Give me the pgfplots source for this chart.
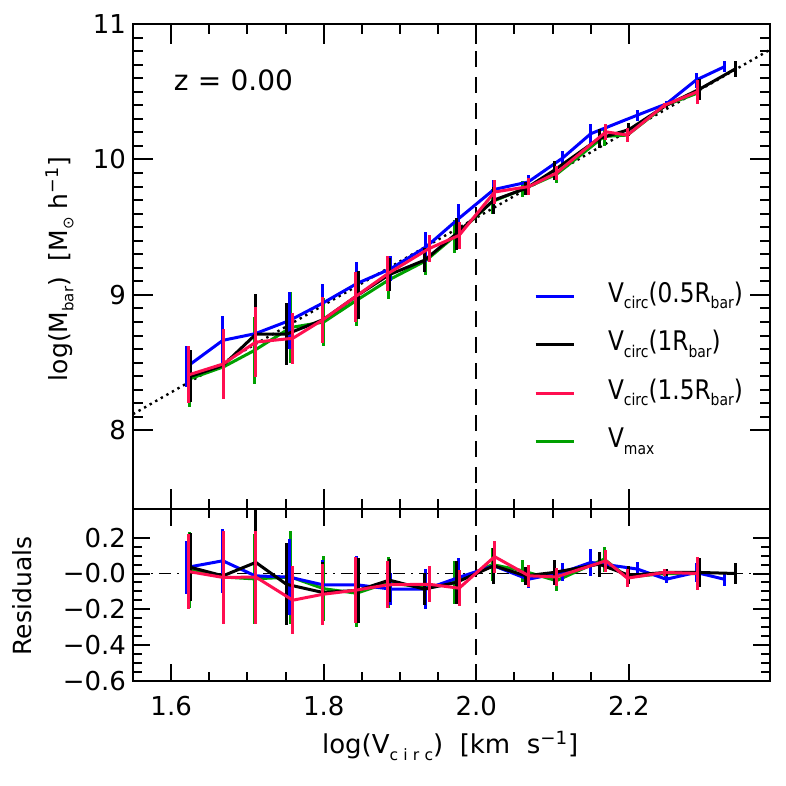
\documentclass[border=0pt]{standalone}
\usepackage{fontspec}
\setmainfont{DejaVu Sans}
\usepackage{pgfplots}
\usepackage{pgfplotstable}
\pgfplotsset{compat=1.18}
\definecolor{vblue}{RGB}{0,0,255}
\definecolor{vred}{RGB}{255,15,80}
\definecolor{vgreen}{RGB}{0,160,0}
\newcommand\sub[1]{\raisebox{-0.45ex}{\scalebox{0.6}{#1}}}
\newcommand\leg[1]{\hspace{2.5pt}\scalebox{0.86}[1]{#1}}

% x: log Vcirc, y: log Mbar, e: error, r: residual
\pgfplotstableread{
x      y       e      r
1.6206 8.47    0.15   0.034
1.6678 8.665   0.18   0.071
1.7101 8.714   0.22  -0.013
1.7547 8.81    0.21  -0.02
1.7988 8.94    0.14  -0.063
1.8434 9.084   0.16  -0.063
1.888  9.194   0.09  -0.087
1.934  9.354   0.11  -0.087
1.977  9.564   0.11  -0.022
2.023  9.778   0.07   0.043
2.068  9.834   0.05  -0.032
2.113  10.01   0.05   0.006
2.150  10.19   0.075  0.062
2.211  10.327  0.04   0.025
2.249  10.41   0.02  -0.032
2.288  10.586  0.055  0.006
2.325  10.684  0.04  -0.032
}\halfR

\pgfplotstableread{
x      y       e      r
1.626  8.40    0.19   0.034
1.668  8.48    0.25  -0.013
1.711  8.71    0.30   0.062
1.751  8.71    0.23  -0.06
1.799  8.817   0.17  -0.106
1.845  9.00    0.18  -0.094
1.886  9.15    0.12  -0.037
1.932  9.256   0.09  -0.087
1.9735 9.45    0.12  -0.05
2.023  9.70    0.10   0.043
2.065  9.786   0.05  -0.013
2.102  9.92    0.07   0.006
2.161  10.155  0.07   0.052
2.200  10.22   0.05  -0.01
2.249  10.40   0.02   0.006
2.292  10.517  0.08   0.006
2.340  10.67   0.06   0.0
}\oneR

\pgfplotstableread{
x      y       e      r
1.623  8.41    0.21   0.011
1.668  8.49    0.26  -0.022
1.711  8.652   0.26  -0.02
1.7595 8.68    0.19  -0.149
1.799  8.817   0.17  -0.116
1.841  8.985   0.185 -0.094
1.884  9.157   0.13  -0.063
1.938  9.342   0.10  -0.06
1.9775 9.44    0.10  -0.082
2.024  9.76    0.09   0.094
2.069  9.80    0.06  -0.013
2.105  9.90    0.05  -0.019
2.170  10.204  0.06   0.071
2.198  10.18   0.05  -0.026
2.2465 10.40   0.02   0.006
2.290  10.50   0.09   0.0
}\onehalfR

\pgfplotstableread{
x      y       e      r
1.624  8.38    0.21   0.02
1.669  8.47    0.24  -0.02
1.709  8.59    0.25  -0.03
1.757  8.76    0.26  -0.02
1.800  8.80    0.18  -0.085
1.843  8.96    0.19  -0.11
1.885  9.11    0.14  -0.05
1.933  9.25    0.10  -0.08
1.971  9.43    0.12  -0.05
2.021  9.69    0.09   0.05
2.061  9.78    0.06   0.015
2.105  9.89    0.06  -0.04
2.1675 10.17   0.07   0.08
2.198  10.18   0.05  -0.02
2.248  10.40   0.02   0.0
2.290  10.49   0.08   0.0
}\vmax

\pgfplotsset{
  ser/.style={line width=1.5pt, #1,
    error bars/y dir=both, error bars/y explicit, error bars/error mark=none,
    error bars/error bar style={line width=1.5pt, #1}},
  panel/.style={
    scale only axis, width=318.5pt,
    xmin=1.55, xmax=2.385,
    xtick={1.6,1.8,2.0,2.2}, minor x tick num=3,
    tick align=inside,
    axis line style={line width=1pt},
    every tick/.style={black, line width=1pt},
    /pgf/number format/assume math mode=true,
    ticklabel style={font=\fontsize{13}{15}\selectfont},
    label style={font=\fontsize{12.5}{15}\selectfont},
    clip=true,
  },
}

\begin{document}
\begin{tikzpicture}
\begin{axis}[panel,
  at={(0,0)}, anchor=south west, height=242.5pt,
  ymin=7.42, ymax=11,
  ytick={8,9,10,11}, minor y tick num=9,
  xticklabels={},
  major tick length=10pt, minor tick length=5pt,
  yticklabel style={/pgf/number format/fixed},
  ylabel={log(M\sub{bar})\ \ [M\sub{⊙} h\textsuperscript{−1}]},
  ylabel style={at={(axis description cs:-0.115,0.495)}, anchor=center},
  legend style={at={(axis description cs:0.629,0.481)}, anchor=north west,
    draw=none, fill=none, inner sep=0pt, row sep=4.3pt,
    nodes={inner sep=0pt, text height=13pt, text depth=7pt},
    /tikz/every odd column/.append style={column sep=14pt},
    font=\fontsize{13.5}{16}\selectfont},
  legend cell align=left,
  legend image code/.code={\draw[#1, line width=1.5pt] (0pt,0pt) -- (19pt,0pt);},
]
\addlegendimage{vblue}
\addlegendentry{\leg{V\sub{circ}(0.5R\sub{bar})}}
\addlegendimage{black}
\addlegendentry{\leg{V\sub{circ}(1R\sub{bar})}}
\addlegendimage{vred}
\addlegendentry{\leg{V\sub{circ}(1.5R\sub{bar})}}
\addlegendimage{vgreen}
\addlegendentry{\leg{V\sub{max}}}

\addplot[black, dotted, line width=1.2pt, forget plot] coordinates {(1.55,8.12) (2.385,10.81)};
\addplot[black, dash pattern=on 8pt off 5pt, line width=0.9pt, forget plot] coordinates {(2.0,7.42) (2.0,11)};

\addplot[forget plot, ser=vgreen] table[x=x, y=y, y error=e] {\vmax};
\addplot[forget plot, ser=vblue] table[x=x, y=y, y error=e] {\halfR};
\addplot[forget plot, ser=black] table[x=x, y=y, y error=e] {\oneR};
\addplot[forget plot, ser=vred] table[x=x, y=y, y error=e] {\onehalfR};

\node[anchor=west, inner sep=0pt, font=\fontsize{14}{16}\selectfont] at (axis cs:1.603,10.586) {z\,\,=\,\,0.00};
\end{axis}

\begin{axis}[panel,
  at={(0,0)}, anchor=north west, height=86pt,
  ymin=-0.6, ymax=0.36,
  ytick={-0.6,-0.4,-0.2,0,0.2},
  yticklabels={−0.6,−0.4,−0.2,−0.0,0.2},
  minor y tick num=3,
  xticklabel style={/pgf/number format/fixed, /pgf/number format/fixed zerofill, /pgf/number format/precision=1, yshift=-4pt},
  major tick length=8.5pt, minor tick length=4.5pt,
  xlabel={log(V\sub{c\,\,i\,\,r\,\,c})\ \ [km\ \ s\textsuperscript{−1}]},
  xlabel style={at={(axis description cs:0.498,-0.378)}, anchor=center,
    font=\fontsize{13}{15}\selectfont},
  ylabel={Residuals},
  ylabel style={at={(axis description cs:-0.174,0.494)}, anchor=center},
]
\addplot[black, dash pattern=on 6pt off 3pt on 1pt off 3pt, line width=0.9pt] coordinates {(1.55,0) (2.385,0)};
\addplot[black, dash pattern=on 8pt off 5pt, line width=0.9pt] coordinates {(2.0,-0.6) (2.0,0.36)};

\addplot[ser=vgreen] table[x=x, y=r, y error=e] {\vmax};
\addplot[ser=vblue] table[x=x, y=r, y error=e] {\halfR};
\addplot[ser=black] table[x=x, y=r, y error=e] {\oneR};
\addplot[ser=vred] table[x=x, y=r, y error=e] {\onehalfR};
\end{axis}

\path[use as bounding box] (-66.5pt,-138.5pt) rectangle (326.5pt,254.5pt);
\end{tikzpicture}
\end{document}
